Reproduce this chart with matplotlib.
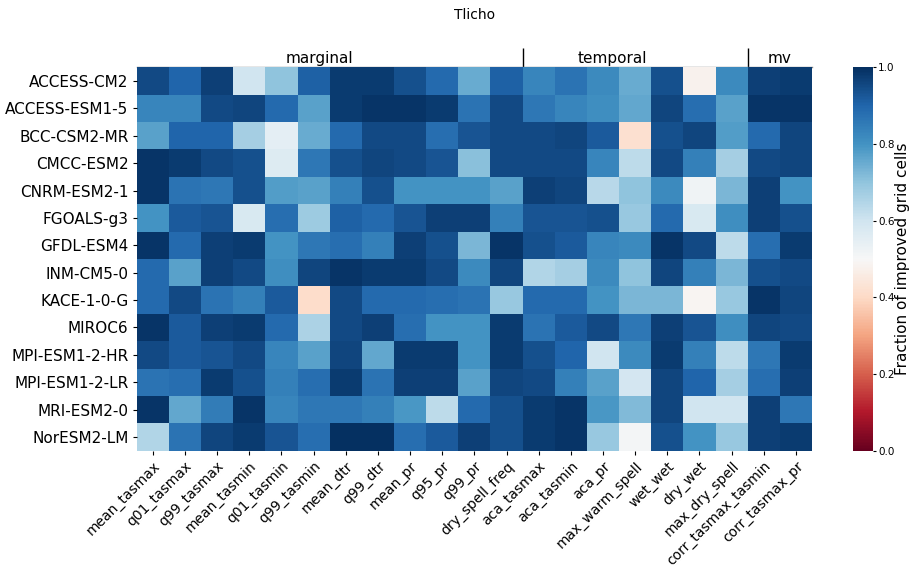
import numpy as np
import matplotlib
matplotlib.use('Agg')
import matplotlib.pyplot as plt

# models (rows) and metrics (columns)
models = ['ACCESS-CM2', 'ACCESS-ESM1-5', 'BCC-CSM2-MR', 'CMCC-ESM2', 'CNRM-ESM2-1',
          'FGOALS-g3', 'GFDL-ESM4', 'INM-CM5-0', 'KACE-1-0-G', 'MIROC6',
          'MPI-ESM1-2-HR', 'MPI-ESM1-2-LR', 'MRI-ESM2-0', 'NorESM2-LM']

marginal_metrics = ['mean_tasmax', 'q01_tasmax', 'q99_tasmax', 'mean_tasmin', 'q01_tasmin',
                    'q99_tasmin', 'mean_dtr', 'q99_dtr', 'mean_pr', 'q95_pr', 'q99_pr',
                    'dry_spell_freq']
temporal_metrics = ['aca_tasmax', 'aca_tasmin', 'aca_pr', 'max_warm_spell', 'wet_wet',
                    'dry_wet', 'max_dry_spell']
mv_metrics = ['corr_tasmax_tasmin', 'corr_tasmax_pr']

# fraction of improved grid cells, one row per model
marginal_vals = [
    [.95, .90, .97, .60, .70, .91, .98, .98, .94, .89, .75, .91],
    [.83, .83, .95, .96, .89, .77, .98, .99, .99, .98, .87, .95],
    [.77, .90, .90, .67, .55, .75, .89, .95, .95, .88, .93, .95],
    [.99, .98, .95, .94, .57, .86, .94, .96, .95, .93, .71, .95],
    [.99, .87, .86, .94, .78, .77, .84, .94, .80, .80, .80, .77],
    [.80, .92, .93, .58, .88, .68, .91, .89, .93, .97, .97, .84],
    [.99, .89, .97, .98, .80, .86, .88, .84, .97, .94, .73, .99],
    [.89, .77, .97, .95, .81, .96, .99, .98, .98, .95, .82, .96],
    [.89, .95, .87, .84, .92, .41, .95, .89, .89, .88, .87, .69],
    [.99, .92, .97, .98, .89, .66, .95, .97, .88, .80, .80, .98],
    [.95, .92, .93, .95, .83, .77, .96, .76, .98, .98, .80, .98],
    [.87, .88, .98, .94, .84, .88, .98, .87, .97, .97, .77, .96],
    [.99, .76, .85, .99, .83, .86, .86, .84, .79, .63, .89, .94],
    [.65, .87, .96, .98, .93, .88, 1.0, 1.0, .88, .92, .97, .94],
]
temporal_vals = [
    [.83, .87, .82, .75, .94, .48, .82],
    [.86, .83, .81, .76, .96, .88, .77],
    [.95, .96, .92, .42, .94, .96, .78],
    [.95, .95, .83, .63, .95, .84, .67],
    [.97, .96, .64, .70, .82, .52, .73],
    [.93, .93, .94, .69, .89, .58, .81],
    [.94, .92, .83, .82, .99, .95, .63],
    [.65, .67, .82, .70, .96, .84, .73],
    [.89, .89, .80, .73, .73, .49, .69],
    [.87, .92, .95, .86, .97, .93, .81],
    [.94, .90, .60, .82, .98, .84, .63],
    [.95, .84, .77, .59, .96, .90, .67],
    [.98, .99, .79, .72, .96, .60, .60],
    [.98, .99, .69, .51, .94, .80, .69],
]
mv_vals = [
    [.97, .98], [.99, .99], [.89, .96], [.95, .96], [.97, .80], [.97, .94], [.88, .98],
    [.94, .95], [.99, .96], [.96, .95], [.86, .98], [.88, .97], [.97, .86], [.97, .98],
]

# group names and where their labels sit on the column axis
groups = ['marginal', 'temporal', 'mv']
group_label_x = [5.67, 14.8, 20.0]

metrics = marginal_metrics + temporal_metrics + mv_metrics
data = np.hstack([np.array(marginal_vals), np.array(temporal_vals), np.array(mv_vals)])
bounds = np.cumsum([len(marginal_metrics), len(temporal_metrics)])

fig = plt.figure(figsize=(9.12, 5.73), dpi=100)
ax = fig.add_axes([0.1499, 0.2134, 0.7405, 0.6691])
cax = fig.add_axes([0.9356, 0.2134, 0.0213, 0.6691])

mesh = ax.pcolormesh(data, cmap='RdBu', vmin=0, vmax=1)
ax.set_xlim(0, data.shape[1])
ax.set_ylim(data.shape[0], 0)
for s in ax.spines.values():
    s.set_visible(False)

ax.set_xticks(np.arange(len(metrics)) + 0.5)
ax.set_xticklabels(metrics, fontsize=10, rotation=45, ha='right', rotation_mode='anchor')
ax.set_yticks(np.arange(len(models)) + 0.5)
ax.set_yticklabels(models, fontsize=11)
ax.tick_params(axis='both', length=3, width=0.8, pad=3)

# group separators and labels on top
top = ax.secondary_xaxis('top')
top.set_xticks(bounds)
top.tick_params(axis='x', length=14, width=1, color='black', labeltop=False)
top.spines['top'].set_color('gray')
top.spines['top'].set_linewidth(1)
for name, gx in zip(groups, group_label_x):
    ax.annotate(name, xy=(gx, 1), xycoords=('data', 'axes fraction'),
                xytext=(0, 3), textcoords='offset points',
                ha='center', va='baseline', fontsize=11)

cbar = fig.colorbar(mesh, cax=cax)
cbar.outline.set_visible(False)
cbar.set_ticks([0.0, 0.2, 0.4, 0.6, 0.8, 1.0])
cbar.ax.tick_params(labelsize=7.5, length=2, width=0.8, pad=2)
cbar.set_label('Fraction of improved grid cells', fontsize=11, labelpad=0)

fig.text(0.52, 1 - 15 / 573, 'Tlicho', ha='center', va='center', fontsize=10)

plt.savefig('out.png', dpi=100)
